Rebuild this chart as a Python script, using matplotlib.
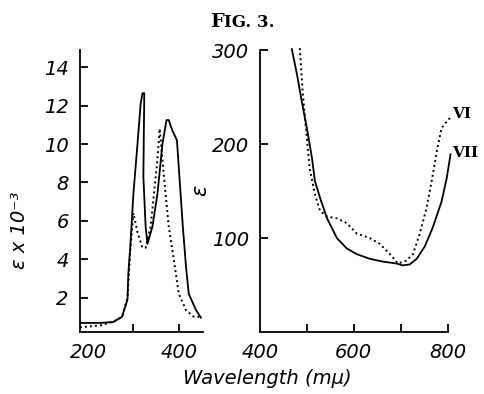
import matplotlib

matplotlib.use("Agg")
import matplotlib.pyplot as plt

# left panel: UV region, eps x 10^-3
uv_wl_solid = [182, 227, 256, 275, 287, 289, 293, 300, 309, 316, 320, 324, 322, 327, 331,
               342, 353, 364, 373, 378, 386, 396, 400, 409, 416, 422, 438, 449]
uv_eps_solid = [0.68, 0.68, 0.73, 1.0, 1.9, 3.3, 4.6, 7.4, 10.0, 12.1, 12.65, 12.65, 8.3, 5.7, 4.8,
                5.7, 7.4, 10.0, 11.25, 11.25, 10.7, 10.2, 8.8, 5.7, 3.6, 2.2, 1.35, 0.95]
uv_wl_dot = [182, 227, 256, 275, 287, 293, 300, 309, 320, 327, 338, 344, 353, 358,
             364, 371, 378, 389, 400, 416, 433, 447]
uv_eps_dot = [0.45, 0.55, 0.75, 1.0, 2.0, 4.4, 6.4, 5.4, 4.6, 4.6, 5.7, 7.1, 9.2, 10.8,
              9.2, 7.4, 5.7, 4.0, 2.2, 1.35, 1.0, 1.0]

# right panel: visible region, eps
vis_wl_solid = [468, 479, 489, 500, 511, 517, 528, 543, 564, 585, 606, 634, 662, 691,
                704, 719, 734, 751, 768, 787, 798, 806]
vis_eps_solid = [301, 274, 246, 217, 185, 161, 143, 121, 100, 89, 83, 78, 75, 73,
                 71, 72, 78, 91, 111, 139, 164, 189]
vis_wl_dot = [485, 491, 498, 506, 517, 528, 543, 564, 585, 606, 634, 655, 677, 694,
              712, 726, 740, 755, 766, 777, 787, 798, 809]
vis_eps_dot = [302, 256, 217, 174, 147, 129, 123, 121, 116, 105, 100, 94, 83, 73,
               76, 83, 104, 132, 161, 193, 217, 224, 230]

FONT = dict(family="DejaVu Sans", style="italic")


def style_axes(ax):
    for side in ("top", "right"):
        ax.spines[side].set_visible(False)
    for side in ("left", "bottom"):
        ax.spines[side].set_linewidth(1.3)
    ax.tick_params(direction="in", length=6, width=1.3, labelsize=14, pad=8)
    for lab in ax.get_xticklabels() + ax.get_yticklabels():
        lab.set_fontstyle("italic")


def main():
    fig = plt.figure(figsize=(4.84, 3.94), dpi=100)

    ax1 = fig.add_axes([0.165, 0.157, 0.254, 0.716])
    ax1.plot(uv_wl_solid, uv_eps_solid, color="black", lw=1.3)
    ax1.plot(uv_wl_dot, uv_eps_dot, color="black", lw=1.4, ls=(0, (1, 1.6)))
    ax1.set_xlim(182, 453)
    ax1.set_ylim(0.2, 14.9)
    ax1.set_yticks([2, 4, 6, 8, 10, 12, 14])
    ax1.set_yticklabels(["2", "4", "6", "8", "10", "12", "14"])
    ax1.set_xticks([200, 300, 400])
    ax1.set_xticklabels(["200", "", "400"])
    style_axes(ax1)
    ax1.xaxis.get_major_ticks()[0].tick1line.set_visible(False)

    ax2 = fig.add_axes([0.537, 0.157, 0.388, 0.716])
    ax2.plot(vis_wl_solid, vis_eps_solid, color="black", lw=1.3, clip_on=False)
    ax2.plot(vis_wl_dot, vis_eps_dot, color="black", lw=1.4, ls=(0, (1, 1.6)), clip_on=False)
    ax2.set_xlim(400, 800)
    ax2.set_ylim(0, 300)
    ax2.set_yticks([100, 200, 300])
    ax2.set_xticks([400, 500, 600, 700, 800])
    ax2.set_xticklabels(["400", "", "600", "", "800"])
    style_axes(ax2)
    ax2.xaxis.get_major_ticks()[0].tick1line.set_visible(False)

    ax2.text(809, 232, "VI", fontsize=11, family="DejaVu Serif", weight="bold",
             va="center", ha="left", clip_on=False)
    ax2.text(809, 190, "VII", fontsize=11, family="DejaVu Serif", weight="bold",
             va="center", ha="left", clip_on=False)

    fig.text(0.04, 0.416, "ε x 10⁻³", rotation=90, fontsize=14, ha="center", va="center", **FONT)
    fig.text(0.413, 0.518, "ε", rotation=90, fontsize=15, ha="center", va="center", **FONT)
    fig.text(0.553, 0.04, "Wavelength (mμ)", fontsize=14, ha="center", va="center", **FONT)

    # small-caps style title
    fig.text(0.463, 0.932, "F", fontsize=14, family="DejaVu Serif", weight="bold",
             ha="right", va="baseline")
    fig.text(0.463, 0.932, "IG. 3.", fontsize=12, family="DejaVu Serif", weight="bold",
             ha="left", va="baseline")

    fig.savefig("out.png", dpi=100)


if __name__ == "__main__":
    main()
